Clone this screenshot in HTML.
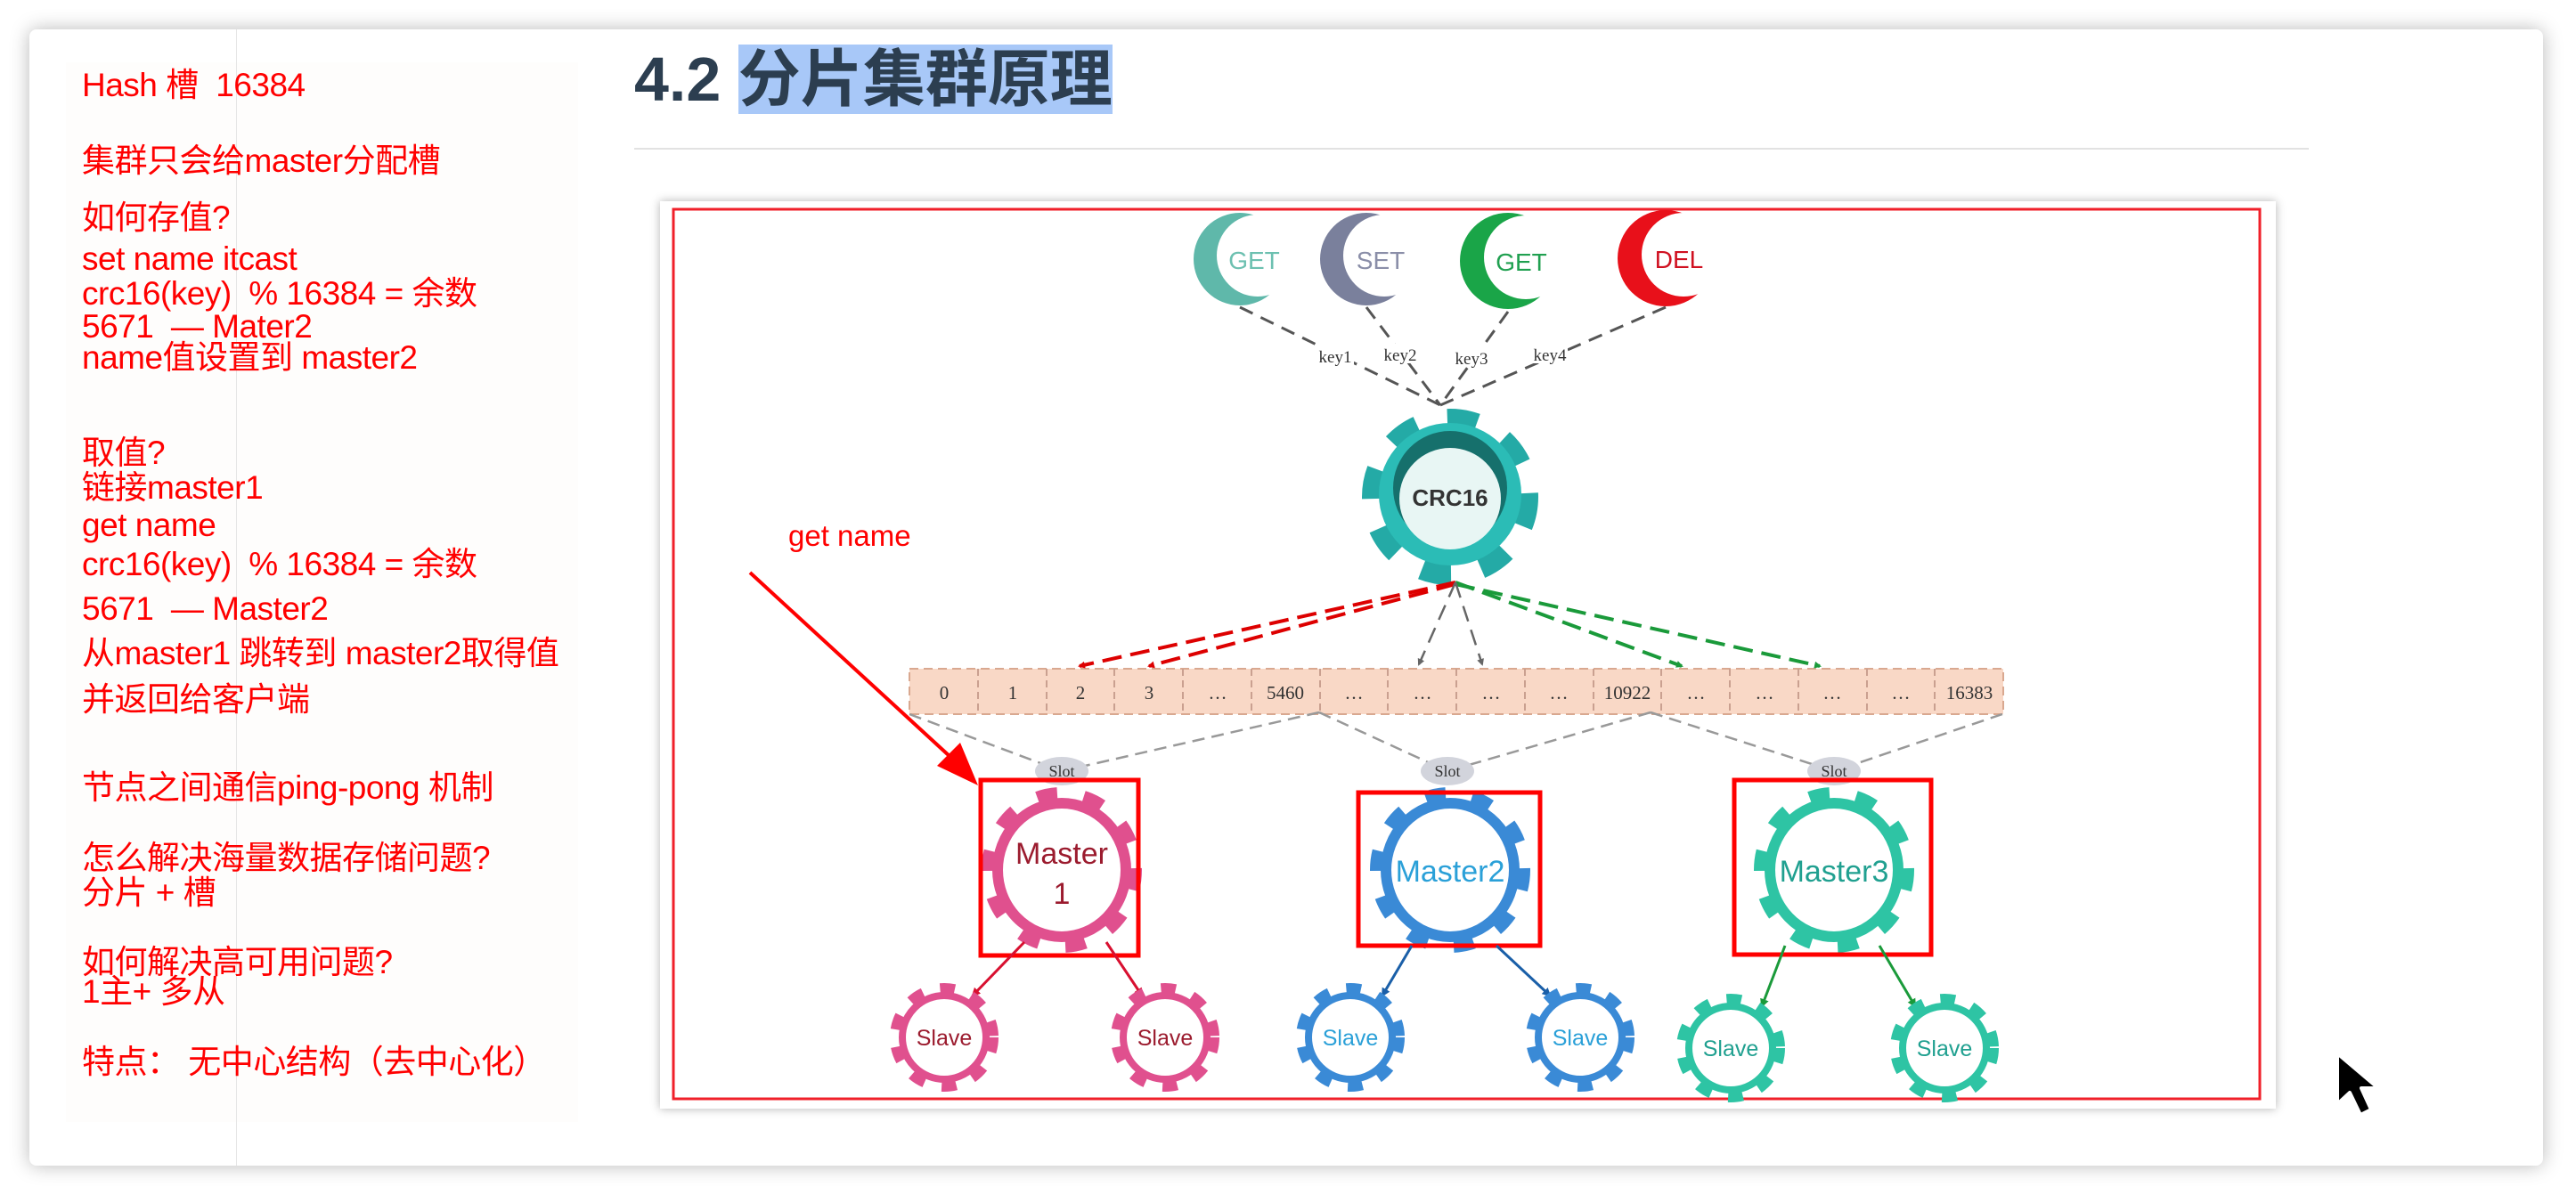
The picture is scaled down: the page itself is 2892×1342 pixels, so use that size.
<!DOCTYPE html>
<html><head><meta charset="utf-8"><style>
html,body{margin:0;padding:0;background:#fff;}
body{width:2892px;height:1342px;position:relative;overflow:hidden;font-family:"Liberation Sans","Noto Sans CJK SC",sans-serif;}
.card{position:absolute;left:33px;top:33px;width:2822px;height:1276px;background:#fff;border-radius:8px;box-shadow:0 0 22px rgba(0,0,0,0.28);}
.lp{position:absolute;left:74px;top:70px;width:575px;height:1190px;background:#fefdfc;}
.vl{position:absolute;left:265px;top:33px;width:1px;height:1276px;background:#e6e6e6;}
.t{position:absolute;left:92px;color:#f00;font-size:37px;line-height:40px;white-space:nowrap;letter-spacing:-0.5px;}
.h{position:absolute;left:712px;top:44px;font-size:70px;font-weight:bold;color:#2c3e50;line-height:90px;white-space:nowrap;}
.h span{background:#a8c8f8;}
.hr{position:absolute;left:712px;top:166px;width:1880px;height:2px;background:#e2e2e2;}
</style></head><body>
<div class="card"></div>
<div class="lp"></div>
<div class="vl"></div>
<div class="t" style="top:76px">Hash 槽 &nbsp;16384</div>
<div class="t" style="top:161px">集群只会给master分配槽</div>
<div class="t" style="top:225px">如何存值?</div>
<div class="t" style="top:271px">set name itcast</div>
<div class="t" style="top:310px">crc16(key) &nbsp;% 16384 = 余数</div>
<div class="t" style="top:347px">5671 &nbsp;— Mater2</div>
<div class="t" style="top:382px">name值设置到 master2</div>
<div class="t" style="top:489px">取值?</div>
<div class="t" style="top:528px">链接master1</div>
<div class="t" style="top:570px">get name</div>
<div class="t" style="top:614px">crc16(key) &nbsp;% 16384 = 余数</div>
<div class="t" style="top:664px">5671 &nbsp;— Master2</div>
<div class="t" style="top:714px">从master1 跳转到 master2取得值</div>
<div class="t" style="top:766px">并返回给客户端</div>
<div class="t" style="top:865px">节点之间通信ping-pong 机制</div>
<div class="t" style="top:944px">怎么解决海量数据存储问题?</div>
<div class="t" style="top:983px">分片 + 槽</div>
<div class="t" style="top:1061px">如何解决高可用问题?</div>
<div class="t" style="top:1094px">1主+ 多从</div>
<div class="t" style="top:1173px">特点： 无中心结构（去中心化）</div>
<div class="h">4.2 <span>分片集群原理</span></div>
<div class="hr"></div>
<div style="position:absolute;left:741px;top:226px;width:1814px;height:1019px;background:#fff;box-shadow:0 0 10px rgba(0,0,0,0.3);"></div>
<svg width="2892" height="1342" style="position:absolute;left:0;top:0" font-family="Liberation Sans, sans-serif">
<defs>
<marker id="ar" markerWidth="8" markerHeight="8" refX="6" refY="4" orient="auto" markerUnits="userSpaceOnUse"><path d="M0,0 L8,4 L0,8z" fill="#d00"/></marker>
<marker id="ag" markerWidth="8" markerHeight="8" refX="6" refY="4" orient="auto" markerUnits="userSpaceOnUse"><path d="M0,0 L8,4 L0,8z" fill="#1a9a3a"/></marker>
<marker id="ak" markerWidth="8" markerHeight="8" refX="6" refY="4" orient="auto" markerUnits="userSpaceOnUse"><path d="M0,0 L8,4 L0,8z" fill="#666"/></marker>
<marker id="ap" markerWidth="10" markerHeight="10" refX="8" refY="5" orient="auto" markerUnits="userSpaceOnUse"><path d="M0,0 L10,5 L0,10z" fill="#d81030"/></marker>
<marker id="ab" markerWidth="10" markerHeight="10" refX="8" refY="5" orient="auto" markerUnits="userSpaceOnUse"><path d="M0,0 L10,5 L0,10z" fill="#1a5fa8"/></marker>
<marker id="at" markerWidth="10" markerHeight="10" refX="8" refY="5" orient="auto" markerUnits="userSpaceOnUse"><path d="M0,0 L10,5 L0,10z" fill="#1a9a3a"/></marker>
</defs>
<rect x="756" y="235" width="1781" height="999" fill="none" stroke="#f0202a" stroke-width="3"/>
<circle cx="1392" cy="291" r="52" fill="#5fb8aa"/><circle cx="1412" cy="287" r="46" fill="#fff"/>
<text x="1408" y="302" font-size="28" fill="#6cc0b0" text-anchor="middle">GET</text>
<circle cx="1534" cy="291" r="52" fill="#7a809c"/><circle cx="1554" cy="287" r="46" fill="#fff"/>
<text x="1550" y="302" font-size="28" fill="#8a8ea8" text-anchor="middle">SET</text>
<circle cx="1693" cy="293" r="54" fill="#1aa548"/><circle cx="1713" cy="289" r="47" fill="#fff"/>
<text x="1708" y="304" font-size="28" fill="#20a050" text-anchor="middle">GET</text>
<circle cx="1870" cy="290" r="54" fill="#e8101a"/><circle cx="1890" cy="286" r="47" fill="#fff"/>
<text x="1885" y="301" font-size="28" fill="#d01020" text-anchor="middle">DEL</text>
<g stroke="#555" stroke-width="3" stroke-dasharray="16,10" fill="none">
<line x1="1392" y1="345" x2="1617" y2="455"/>
<line x1="1534" y1="345" x2="1617" y2="455"/>
<line x1="1693" y1="350" x2="1617" y2="455"/>
<line x1="1870" y1="345" x2="1617" y2="455"/>
</g>
<g font-family="Liberation Serif, serif" font-size="19" fill="#333" text-anchor="middle">
<rect x="1480" y="388" width="40" height="22" fill="#fff"/><text x="1499" y="407">key1</text>
<rect x="1552" y="386" width="40" height="22" fill="#fff"/><text x="1572" y="405">key2</text>
<rect x="1632" y="390" width="40" height="22" fill="#fff"/><text x="1652" y="409">key3</text>
<rect x="1720" y="386" width="40" height="22" fill="#fff"/><text x="1740" y="405">key4</text>
</g>
<circle cx="1628" cy="558" r="86" fill="none" stroke="#24aaa6" stroke-width="26" stroke-dasharray="33,34"/>
<circle cx="1628" cy="555" r="80" fill="#2bbcb6"/>
<circle cx="1628" cy="548" r="64" fill="#16706c"/>
<circle cx="1628" cy="560" r="57" fill="#e8f6f4"/>
<text x="1628" y="568" font-size="26" font-weight="bold" fill="#333" text-anchor="middle">CRC16</text>
<g>
<rect x="1021" y="751" width="1228" height="51" fill="#f9d8c6"/>
<rect x="1021" y="751" width="1228" height="51" fill="none" stroke="#d9a890" stroke-width="2" stroke-dasharray="10,6"/>
<g stroke="#caa090" stroke-width="2" stroke-dasharray="8,5">
<line x1="1098" y1="751" x2="1098" y2="802"/><line x1="1175" y1="751" x2="1175" y2="802"/><line x1="1251" y1="751" x2="1251" y2="802"/><line x1="1328" y1="751" x2="1328" y2="802"/><line x1="1405" y1="751" x2="1405" y2="802"/><line x1="1482" y1="751" x2="1482" y2="802"/><line x1="1558" y1="751" x2="1558" y2="802"/><line x1="1635" y1="751" x2="1635" y2="802"/><line x1="1712" y1="751" x2="1712" y2="802"/><line x1="1789" y1="751" x2="1789" y2="802"/><line x1="1865" y1="751" x2="1865" y2="802"/><line x1="1942" y1="751" x2="1942" y2="802"/><line x1="2019" y1="751" x2="2019" y2="802"/><line x1="2096" y1="751" x2="2096" y2="802"/><line x1="2172" y1="751" x2="2172" y2="802"/>
</g>
<g font-family="Liberation Serif, serif" font-size="21" fill="#333" text-anchor="middle">
<text x="1060" y="785">0</text><text x="1137" y="785">1</text><text x="1213" y="785">2</text><text x="1290" y="785">3</text><text x="1367" y="785">…</text><text x="1443" y="785">5460</text><text x="1520" y="785">…</text><text x="1597" y="785">…</text><text x="1674" y="785">…</text><text x="1750" y="785">…</text><text x="1827" y="785">10922</text><text x="1904" y="785">…</text><text x="1981" y="785">…</text><text x="2057" y="785">…</text><text x="2134" y="785">…</text><text x="2211" y="785">16383</text>
</g>
</g>
<g stroke-width="4" stroke-dasharray="22,10" fill="none">
<line x1="1634" y1="654" x2="1212" y2="748" stroke="#d00" marker-end="url(#ar)"/>
<line x1="1634" y1="656" x2="1290" y2="748" stroke="#d00" marker-end="url(#ar)"/>
<line x1="1634" y1="654" x2="1888" y2="748" stroke="#1a9a3a" marker-end="url(#ag)"/>
<line x1="1634" y1="656" x2="2043" y2="748" stroke="#1a9a3a" marker-end="url(#ag)"/>
</g>
<g stroke="#666" stroke-width="2.5" stroke-dasharray="18,10" fill="none">
<line x1="1634" y1="654" x2="1593" y2="746" marker-end="url(#ak)"/>
<line x1="1634" y1="654" x2="1664" y2="746" marker-end="url(#ak)"/>
</g>
<g stroke="#999" stroke-width="2.5" stroke-dasharray="14,8" fill="none">
<line x1="1021" y1="802" x2="1192" y2="866"/><line x1="1481" y1="800" x2="1192" y2="866"/>
<line x1="1481" y1="800" x2="1625" y2="866"/><line x1="1853" y1="800" x2="1625" y2="866"/>
<line x1="1853" y1="800" x2="2059" y2="866"/><line x1="2248" y1="802" x2="2059" y2="866"/>
</g>
<g font-family="Liberation Serif, serif" font-size="18" fill="#333" text-anchor="middle">
<ellipse cx="1192" cy="866" rx="30" ry="16" fill="#d2d4dc"/><text x="1192" y="872">Slot</text>
<ellipse cx="1625" cy="866" rx="30" ry="16" fill="#d2d4dc"/><text x="1625" y="872">Slot</text>
<ellipse cx="2059" cy="866" rx="30" ry="16" fill="#d2d4dc"/><text x="2059" y="872">Slot</text>
</g>
<g>
<ellipse cx="1192" cy="977" rx="80" ry="83" fill="none" stroke="#e0508e" stroke-width="20" stroke-dasharray="22,29"/>
<ellipse cx="1192" cy="977" rx="72" ry="75" fill="#fff" stroke="#e0508e" stroke-width="12"/>
<text x="1192" y="970" font-size="34" fill="#9b1b2e" text-anchor="middle">Master</text>
<text x="1192" y="1015" font-size="34" fill="#9b1b2e" text-anchor="middle">1</text>
<ellipse cx="1628" cy="977" rx="80" ry="83" fill="none" stroke="#3a8ad6" stroke-width="20" stroke-dasharray="22,29"/>
<ellipse cx="1628" cy="977" rx="72" ry="75" fill="#fff" stroke="#3a8ad6" stroke-width="12"/>
<text x="1628" y="990" font-size="34" fill="#2aa0d8" text-anchor="middle">Master2</text>
<ellipse cx="2059" cy="977" rx="80" ry="83" fill="none" stroke="#2ec4a4" stroke-width="20" stroke-dasharray="22,29"/>
<ellipse cx="2059" cy="977" rx="72" ry="75" fill="#fff" stroke="#2ec4a4" stroke-width="12"/>
<text x="2059" y="990" font-size="34" fill="#20a090" text-anchor="middle">Master3</text>
</g>
<g fill="none" stroke="#f00" stroke-width="5">
<rect x="1101" y="876" width="177" height="197"/>
<rect x="1525" y="890" width="204" height="172"/>
<rect x="1947" y="876" width="221" height="196"/>
</g>
<g stroke-width="3" fill="none">
<line x1="1150" y1="1058" x2="1092" y2="1118" stroke="#d81030" marker-end="url(#ap)"/>
<line x1="1242" y1="1058" x2="1282" y2="1118" stroke="#d81030" marker-end="url(#ap)"/>
<line x1="1585" y1="1062" x2="1552" y2="1118" stroke="#1a5fa8" marker-end="url(#ab)"/>
<line x1="1680" y1="1062" x2="1740" y2="1118" stroke="#1a5fa8" marker-end="url(#ab)"/>
<line x1="2004" y1="1062" x2="1978" y2="1130" stroke="#1a9a3a" marker-end="url(#at)"/>
<line x1="2110" y1="1062" x2="2150" y2="1130" stroke="#1a9a3a" marker-end="url(#at)"/>
</g>
<g font-size="25" text-anchor="middle">
<circle cx="1060" cy="1165" r="53" fill="none" stroke="#e0508e" stroke-width="16" stroke-dasharray="16,19"/><circle cx="1060" cy="1165" r="47" fill="#fff" stroke="#e0508e" stroke-width="8"/><text x="1060" y="1174" fill="#9b1b2e">Slave</text>
<circle cx="1308" cy="1165" r="53" fill="none" stroke="#e0508e" stroke-width="16" stroke-dasharray="16,19"/><circle cx="1308" cy="1165" r="47" fill="#fff" stroke="#e0508e" stroke-width="8"/><text x="1308" y="1174" fill="#9b1b2e">Slave</text>
<circle cx="1516" cy="1165" r="53" fill="none" stroke="#3a8ad6" stroke-width="16" stroke-dasharray="16,19"/><circle cx="1516" cy="1165" r="47" fill="#fff" stroke="#3a8ad6" stroke-width="8"/><text x="1516" y="1174" fill="#2aa0d8">Slave</text>
<circle cx="1774" cy="1165" r="53" fill="none" stroke="#3a8ad6" stroke-width="16" stroke-dasharray="16,19"/><circle cx="1774" cy="1165" r="47" fill="#fff" stroke="#3a8ad6" stroke-width="8"/><text x="1774" y="1174" fill="#2aa0d8">Slave</text>
<circle cx="1943" cy="1177" r="53" fill="none" stroke="#2ec4a4" stroke-width="16" stroke-dasharray="16,19"/><circle cx="1943" cy="1177" r="47" fill="#fff" stroke="#2ec4a4" stroke-width="8"/><text x="1943" y="1186" fill="#20a090">Slave</text>
<circle cx="2183" cy="1177" r="53" fill="none" stroke="#2ec4a4" stroke-width="16" stroke-dasharray="16,19"/><circle cx="2183" cy="1177" r="47" fill="#fff" stroke="#2ec4a4" stroke-width="8"/><text x="2183" y="1186" fill="#20a090">Slave</text>
</g>
<text x="885" y="613" font-size="33" fill="#f00">get name</text>
<line x1="842" y1="643" x2="1080" y2="862" stroke="#f00" stroke-width="4"/>
<path d="M1098,882 L1052,860 L1078,834 Z" fill="#f00"/>
<path d="M2624,1183 L2624,1240 L2638,1227 L2650,1252 L2662,1246 L2651,1222 L2670,1222 Z" fill="#000" stroke="#fff" stroke-width="4" stroke-linejoin="round"/>
</svg>
</body></html>
